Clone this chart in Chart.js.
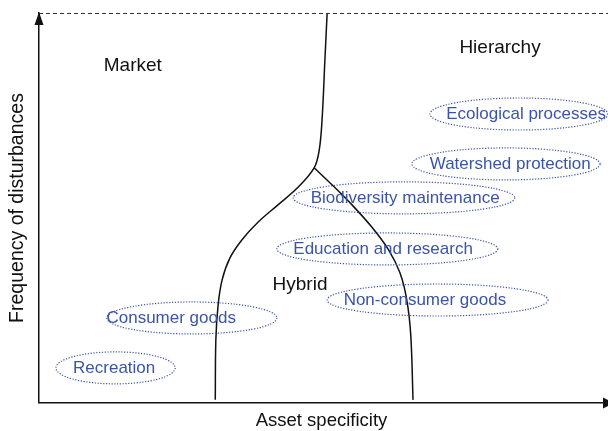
<!DOCTYPE html>
<html>
<head>
<meta charset="utf-8">
<script src="https://cdn.jsdelivr.net/npm/chart.js@4"></script>
<style>
  html, body { margin: 0; padding: 0; background: #fff; }
  #wrap { width: 608px; height: 431px; }
</style>
</head>
<body>
<div id="wrap"><canvas id="chart" width="608" height="431"></canvas></div>
<script>
// goods placed on asset specificity (x) vs frequency of disturbances (y), both 0-100
const goods = ['Ecological processes', 'Watershed protection', 'Biodiversity maintenance',
    'Education and research', 'Non-consumer goods', 'Consumer goods', 'Recreation'];
const goodsFreq = [74.1, 61.3, 52.6, 39.5, 26.4, 21.8, 9.0];
const goodsLow = [69.2, 66.0, 45.0, 42.1, 51.0, 12.0, 3.0];
const goodsHigh = [100.7, 99.3, 84.2, 81.2, 90.1, 42.1, 24.1];
const goodsLabelX = [86.2, 83.4, 64.8, 60.9, 68.3, 23.4, 13.3];

const regions = ['Market', 'Hierarchy', 'Hybrid'];
const regionX = [16.6, 81.6, 46.2];
const regionY = [86.4, 91.0, 30.3];

// boundary between market / hybrid / hierarchy
const leftBoundaryX = [51.0, 50.6, 50.1, 49.6, 48.7, 45.7, 42.3, 38.8, 35.9, 33.8, 32.4, 31.7, 31.3, 31.2];
const leftBoundaryY = [100, 87.9, 72.6, 64.9, 60.3, 55.1, 50.8, 46.4, 41.8, 37.2, 31.5, 25.1, 16.2, 0.8];
const rightBoundaryX = [48.7, 51.9, 55.4, 58.9, 61.9, 63.9, 65.1, 65.8, 66.2];
const rightBoundaryY = [60.3, 55.9, 50.8, 45.1, 39.2, 33.3, 26.4, 17.4, 0.8];

const FONT = 'Arial, "Liberation Sans", sans-serif';
const BLUE = '#3b55a5';

function toPoints(xs, ys) {
    return xs.map((x, i) => ({ x, y: ys[i] }));
}

const diagramPlugin = {
    id: 'diagram',
    afterDraw(chart) {
        const { ctx, chartArea, scales } = chart;
        const xs = scales.x, ys = scales.y;
        ctx.save();

        // dashed top border
        ctx.strokeStyle = '#333';
        ctx.lineWidth = 1;
        ctx.setLineDash([4, 3]);
        ctx.beginPath();
        ctx.moveTo(chartArea.left, chartArea.top + 0.5);
        ctx.lineTo(608, chartArea.top + 0.5);
        ctx.stroke();
        ctx.setLineDash([]);

        // axis extension and arrow heads
        ctx.strokeStyle = '#111';
        ctx.lineWidth = 1.5;
        ctx.beginPath();
        ctx.moveTo(chartArea.right, chartArea.bottom);
        ctx.lineTo(608, chartArea.bottom);
        ctx.stroke();
        ctx.fillStyle = '#111';
        ctx.beginPath();
        ctx.moveTo(chartArea.left, chartArea.top - 1);
        ctx.lineTo(chartArea.left - 4.5, chartArea.top + 12);
        ctx.lineTo(chartArea.left + 4.5, chartArea.top + 12);
        ctx.closePath();
        ctx.fill();
        ctx.beginPath();
        ctx.moveTo(614, chartArea.bottom);
        ctx.lineTo(603, chartArea.bottom - 5.5);
        ctx.lineTo(603, chartArea.bottom + 5.5);
        ctx.closePath();
        ctx.fill();

        // goods ellipses
        ctx.font = '17px ' + FONT;
        ctx.textBaseline = 'middle';
        ctx.textAlign = 'center';
        goods.forEach((name, i) => {
            const x1 = xs.getPixelForValue(goodsLow[i]);
            const x2 = xs.getPixelForValue(goodsHigh[i]);
            const cy = ys.getPixelForValue(goodsFreq[i]);
            ctx.strokeStyle = BLUE;
            ctx.lineWidth = 1.2;
            ctx.setLineDash([1.2, 1.6]);
            ctx.beginPath();
            ctx.ellipse((x1 + x2) / 2, cy, (x2 - x1) / 2, 16, 0, 0, Math.PI * 2);
            ctx.stroke();
            ctx.setLineDash([]);
            ctx.fillStyle = BLUE;
            ctx.fillText(name, xs.getPixelForValue(goodsLabelX[i]), cy);
        });

        // region names
        ctx.font = '19px ' + FONT;
        ctx.fillStyle = '#111';
        regions.forEach((name, i) => {
            ctx.fillText(name, xs.getPixelForValue(regionX[i]), ys.getPixelForValue(regionY[i]));
        });
        ctx.restore();
    }
};

const lineStyle = {
    borderColor: '#111',
    borderWidth: 1.5,
    pointRadius: 0,
    tension: 0.35,
    fill: false,
    clip: false
};

new Chart(document.getElementById('chart'), {
    type: 'line',
    data: {
        datasets: [
            { ...lineStyle, label: 'left boundary', data: toPoints(leftBoundaryX, leftBoundaryY) },
            { ...lineStyle, label: 'right boundary', data: toPoints(rightBoundaryX, rightBoundaryY) }
        ]
    },
    options: {
        responsive: false,
        animation: false,
        devicePixelRatio: 1,
        layout: { padding: { left: 2, right: 4, top: 13, bottom: 0 } },
        plugins: { legend: { display: false }, tooltip: { enabled: false } },
        scales: {
            x: {
                type: 'linear',
                min: 0,
                max: 100,
                grid: { display: false, drawTicks: false },
                ticks: { display: false },
                border: { display: true, color: '#111', width: 1.5 },
                title: {
                    display: true,
                    text: 'Asset specificity',
                    color: '#111',
                    font: { family: FONT, size: 18.5, lineHeight: 1.05 },
                    padding: { top: 8.6, bottom: 0 }
                }
            },
            y: {
                type: 'linear',
                min: 0,
                max: 100,
                grid: { display: false, drawTicks: false },
                ticks: { display: false },
                border: { display: true, color: '#111', width: 1.5 },
                title: {
                    display: true,
                    text: 'Frequency of disturbances',
                    color: '#111',
                    font: { family: FONT, size: 19.5 },
                    padding: { top: 3.8, bottom: 9.8 }
                }
            }
        }
    },
    plugins: [diagramPlugin]
});
</script>
</body>
</html>
